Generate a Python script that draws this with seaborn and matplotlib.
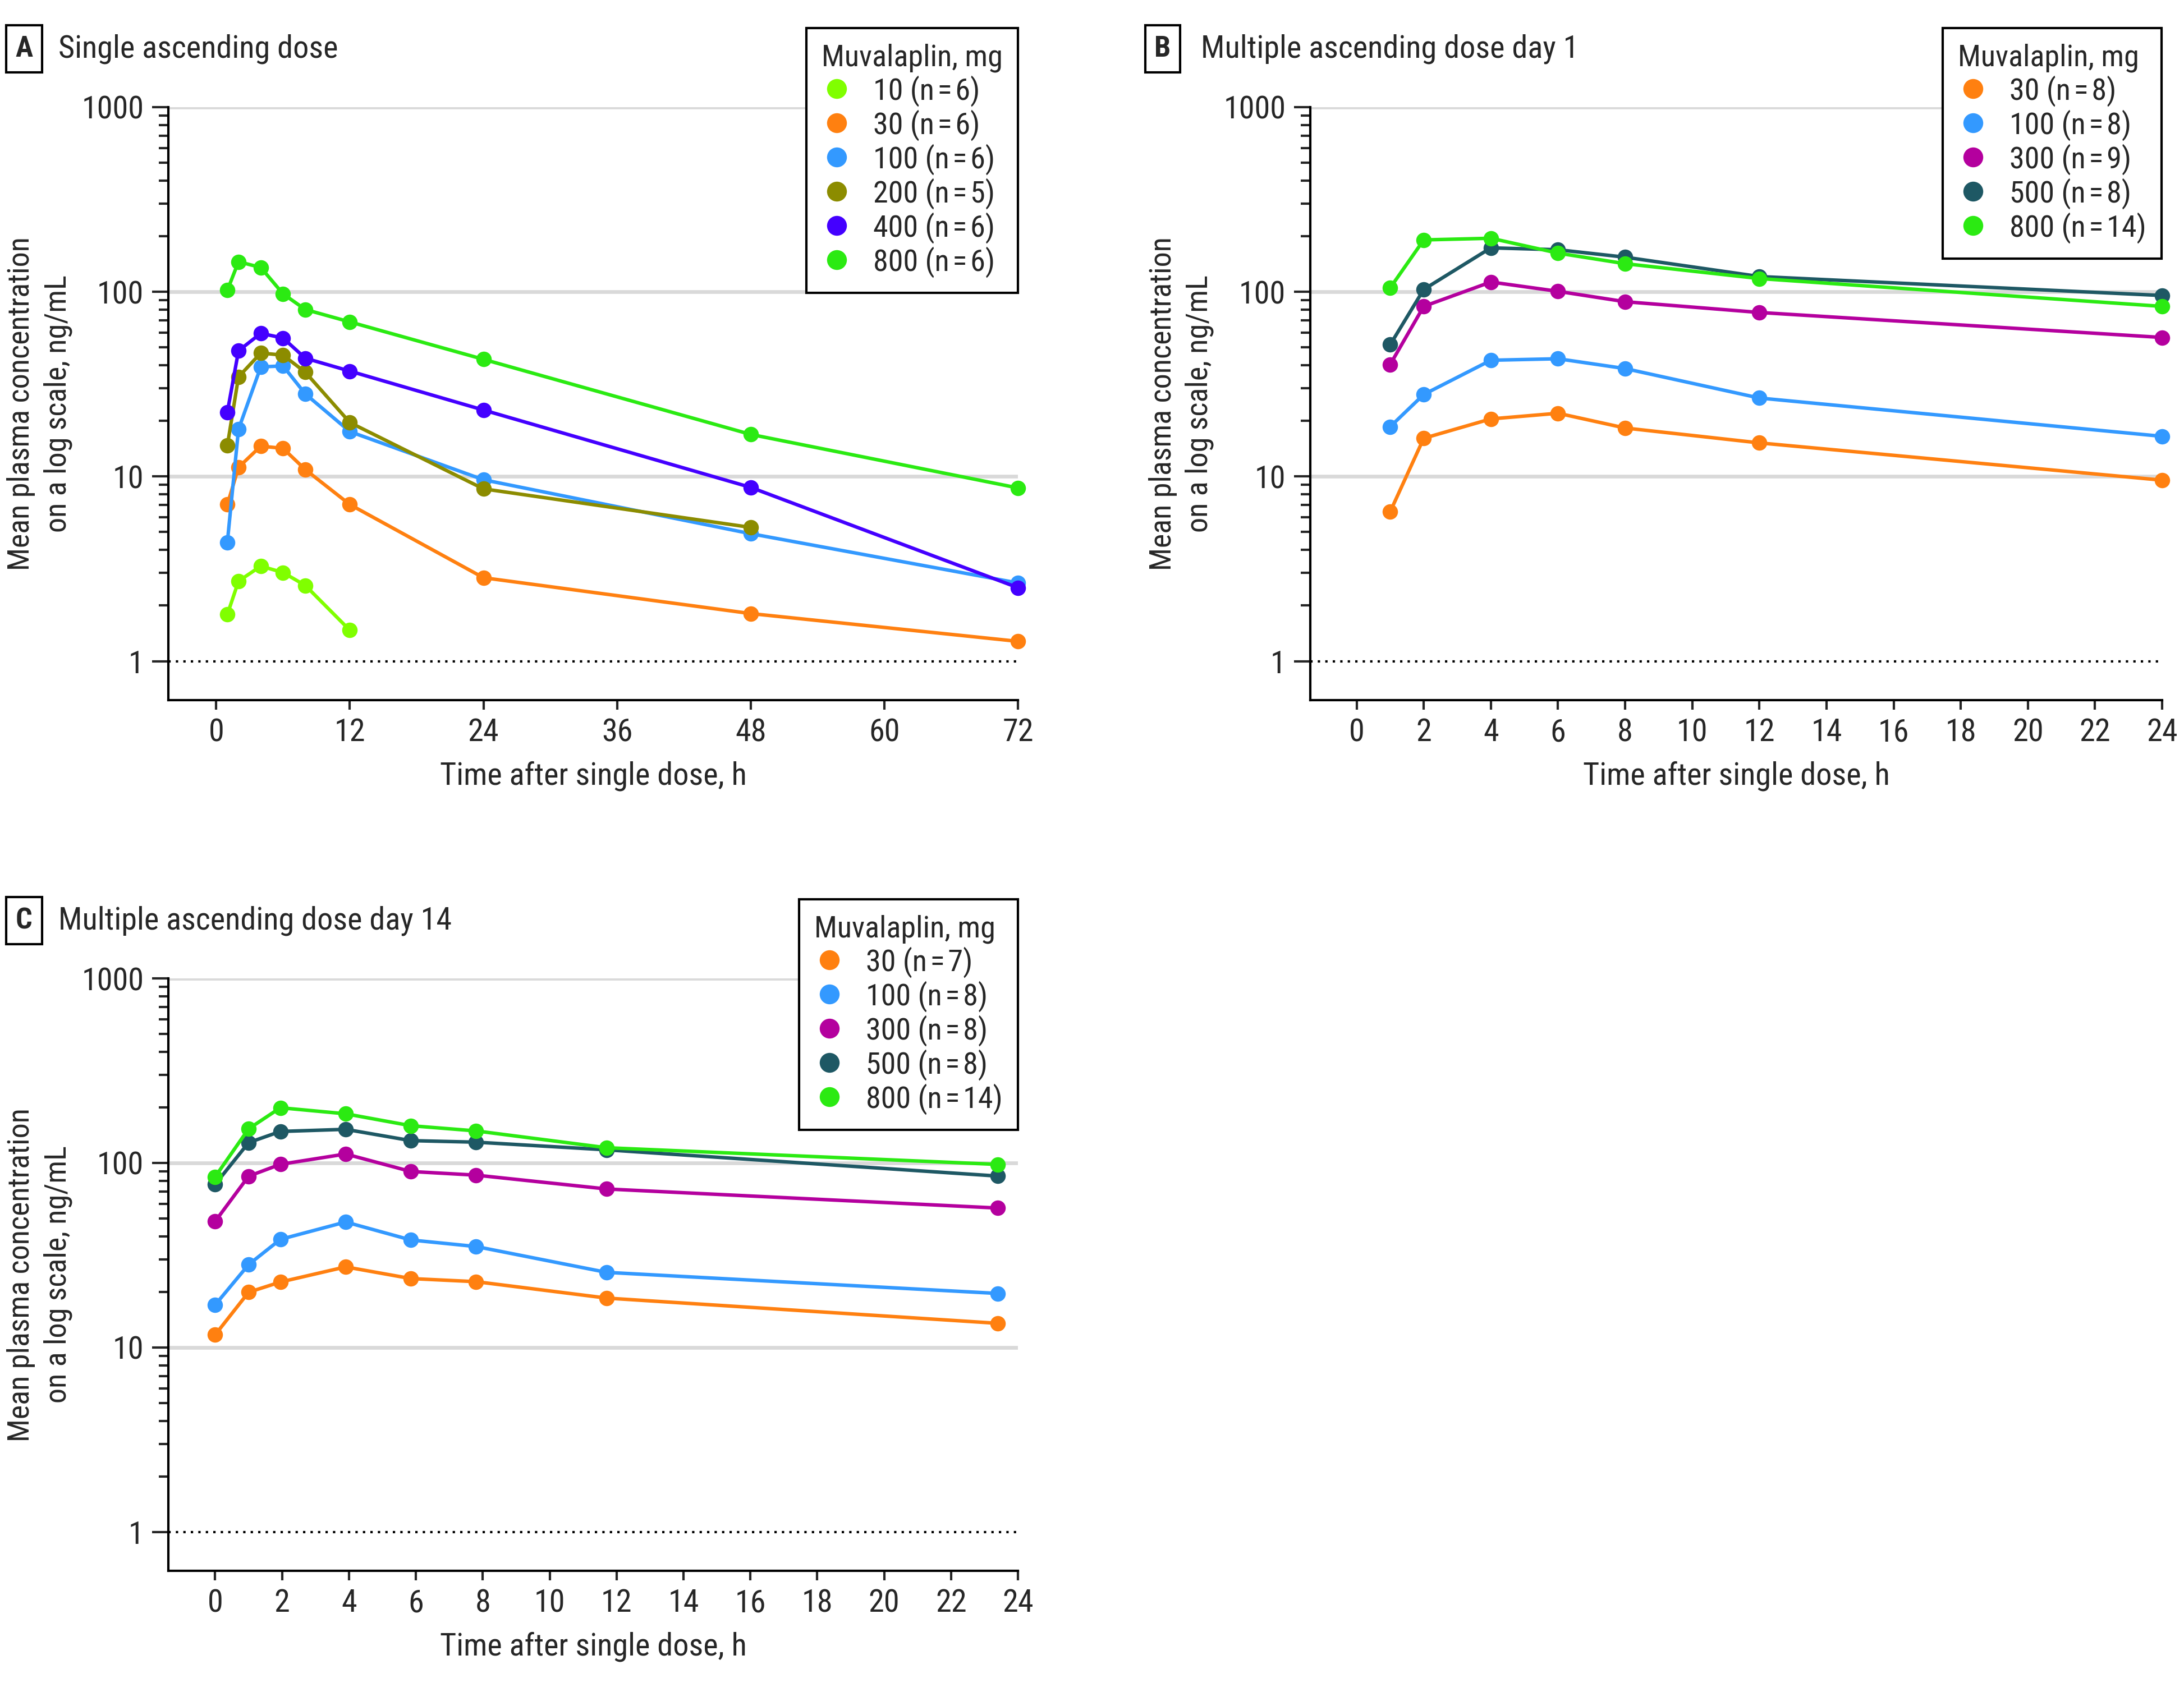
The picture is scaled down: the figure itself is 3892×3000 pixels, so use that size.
import pandas as pd
import matplotlib.pyplot as plt
import seaborn as sns
from matplotlib.lines import Line2D
from matplotlib.ticker import FixedLocator, NullFormatter

# ---- data ----
# A: single ascending dose
sad_time = [1, 2, 4, 6, 8, 12, 24, 48, 72]
sad_doses = ["10 (n\u200a=\u200a6)", "30 (n\u200a=\u200a6)", "100 (n\u200a=\u200a6)",
             "200 (n\u200a=\u200a5)", "400 (n\u200a=\u200a6)", "800 (n\u200a=\u200a6)"]
sad_10 = [1.79, 2.71, 3.27, 3.02, 2.57, 1.47]
sad_30 = [7.05, 11.2, 14.6, 14.2, 10.9, 7.05, 2.83, 1.81, 1.28]
sad_100 = [4.4, 18.0, 39.2, 39.7, 28.0, 17.5, 9.6, 4.9, 2.65]
sad_200 = [14.7, 34.6, 46.6, 45.4, 36.7, 19.6, 8.57, 5.3]
sad_400 = [22.3, 47.9, 59.6, 56.2, 43.7, 37.2, 22.9, 8.73, 2.5]
sad_800 = [101.9, 145.5, 135.5, 97.5, 80.2, 68.7, 43.1, 16.9, 8.67]
sad_colors = ["#80ff00", "#ff8010", "#3399ff", "#8c8c00", "#4400ff", "#2bea12"]

# B: multiple ascending dose day 1
mad1_time = [1, 2, 4, 6, 8, 12, 24]
mad1_doses = ["30 (n\u200a=\u200a8)", "100 (n\u200a=\u200a8)", "300 (n\u200a=\u200a9)",
              "500 (n\u200a=\u200a8)", "800 (n\u200a=\u200a14)"]
mad1_30 = [6.44, 16.1, 20.5, 22.0, 18.3, 15.2, 9.55]
mad1_100 = [18.6, 27.8, 42.6, 43.4, 38.4, 26.6, 16.5]
mad1_300 = [40.4, 83.4, 113, 100.6, 88.4, 77.3, 56.6]
mad1_500 = [51.7, 103, 173, 169, 154, 121, 95.5]
mad1_800 = [105, 191, 195, 162, 142, 118, 83.4]

# C: multiple ascending dose day 14
mad14_time = [0, 1, 1.95, 3.9, 5.85, 7.8, 11.7, 23.4]
mad14_doses = ["30 (n\u200a=\u200a7)", "100 (n\u200a=\u200a8)", "300 (n\u200a=\u200a8)",
               "500 (n\u200a=\u200a8)", "800 (n\u200a=\u200a14)"]
mad14_30 = [11.7, 19.9, 22.6, 27.3, 23.6, 22.7, 18.5, 13.5]
mad14_100 = [17.0, 28.1, 38.5, 47.8, 38.2, 35.2, 25.5, 19.6]
mad14_300 = [48.2, 84.7, 98.2, 111.7, 89.8, 85.8, 72.2, 56.9]
mad14_500 = [76.5, 128.8, 148, 152, 132, 129.5, 117.7, 84.8]
mad14_800 = [84.1, 153, 199, 184.5, 159, 149, 120.8, 98.1]
mad_colors = ["#ff8010", "#3399ff", "#b4009e", "#1e5864", "#2bea12"]


def long_table(times, doses, series):
    rows = []
    for dose, vals in zip(doses, series):
        for t, v in zip(times, vals):
            rows.append({"time": t, "conc": v, "dose": dose})
    return pd.DataFrame(rows)


sad_df = long_table(sad_time, sad_doses, [sad_10, sad_30, sad_100, sad_200, sad_400, sad_800])
mad1_df = long_table(mad1_time, mad1_doses, [mad1_30, mad1_100, mad1_300, mad1_500, mad1_800])
mad14_df = long_table(mad14_time, mad14_doses, [mad14_30, mad14_100, mad14_300, mad14_500, mad14_800])

sns.set_style("ticks")
# the journal uses a condensed face; take whatever condensed face is around
plt.rcParams["font.family"] = ["Liberation Sans Narrow", "Roboto Condensed",
                               "Open Sans Condensed", "DejaVu Sans"]
plt.rcParams["font.stretch"] = "condensed"
plt.rcParams["font.size"] = 12.5

W, H = 3892, 3000
fig = plt.figure(figsize=(W / 300, H / 300), dpi=300)


def draw_panel(ax, df, doses, colors, xlim, xticks, letter, title, letter_xy, title_x, legend_xy):
    ax.set_yscale("log")
    ax.set_ylim(0.615, 1000)
    ax.set_xlim(*xlim)
    for g in [10, 100, 1000]:
        ax.axhline(g, color="#d9d9d9", lw=1.6, zorder=0)
    ax.axhline(1, color="black", lw=1.0, ls=(0, (1, 2.2)), zorder=0)

    sns.lineplot(data=df, x="time", y="conc", hue="dose", hue_order=doses,
                 palette=dict(zip(doses, colors)), marker="o", markersize=6.6,
                 markeredgewidth=0, linewidth=1.5, estimator=None, errorbar=None,
                 legend=False, ax=ax, clip_on=False, zorder=3)

    ax.set_xticks(xticks)
    ax.set_xticklabels([str(t) for t in xticks])
    ax.set_yticks([1, 10, 100, 1000])
    ax.set_yticklabels(["1", "10", "100", "1000"])
    minors = [m * d for d in (1, 10, 100) for m in range(2, 10)]
    ax.yaxis.set_minor_locator(FixedLocator(minors))
    ax.yaxis.set_minor_formatter(NullFormatter())
    ax.tick_params(axis="y", which="major", length=7, width=1.0, labelsize=13.5)
    ax.tick_params(axis="y", which="minor", length=4, width=1.0)
    ax.tick_params(axis="x", which="major", length=4, width=1.0, labelsize=13.5)
    ax.xaxis.set_minor_locator(FixedLocator([]))
    for side in ["top", "right"]:
        ax.spines[side].set_visible(False)
    for side in ["left", "bottom"]:
        ax.spines[side].set_linewidth(1.0)
        ax.spines[side].set_color("black")

    ax.set_xlabel("Time after single dose, h", fontsize=13.5)
    ax.xaxis.set_label_coords(0.5, -0.103)
    ax.set_ylabel("Mean plasma concentration\non a log scale, ng/mL",
                  fontsize=13, linespacing=1.36)
    # anchor of a rotated y label is its right edge
    ax.yaxis.set_label_coords(-0.113, 0.5)

    fig.text(letter_xy[0] / W, 1 - letter_xy[1] / H, letter, fontsize=12.5, fontweight="bold",
             ha="center", va="center",
             bbox=dict(boxstyle="square,pad=0.32", fc="white", ec="black", lw=1.0))
    fig.text(title_x / W, 1 - letter_xy[1] / H, title, fontsize=13.5, ha="left", va="center")

    handles = [Line2D([], [], ls="none", marker="o", markersize=8.5, markeredgewidth=0,
                      color=c) for c in colors]
    leg = ax.legend(handles, doses, title="Muvalaplin, mg", loc="upper right",
                    bbox_to_anchor=(legend_xy[0] / W, 1 - legend_xy[1] / H),
                    bbox_transform=fig.transFigure, borderaxespad=0, frameon=True,
                    fancybox=False, framealpha=1, edgecolor="black", fontsize=13,
                    title_fontsize=13, labelspacing=0.1, handletextpad=0.7,
                    handlelength=1.0, borderpad=0.5, alignment="left")
    leg.get_frame().set_linewidth(1.0)


axA = fig.add_axes([300 / W, 1 - 1248 / H, 1514 / W, 1057 / H])
draw_panel(axA, sad_df, sad_doses, sad_colors, (-4.3, 72), [0, 12, 24, 36, 48, 60, 72],
           "A", "Single ascending dose", (43, 87), 104, (1814, 50))

axB = fig.add_axes([2335 / W, 1 - 1248 / H, 1518 / W, 1057 / H])
draw_panel(axB, mad1_df, mad1_doses, mad_colors, (-1.38, 24), list(range(0, 25, 2)),
           "B", "Multiple ascending dose day 1", (2072, 87), 2140, (3852, 50))

axC = fig.add_axes([300 / W, 1 - 2800 / H, 1514 / W, 1056 / H])
draw_panel(axC, mad14_df, mad14_doses, mad_colors, (-1.4, 24), list(range(0, 25, 2)),
           "C", "Multiple ascending dose day 14", (43, 1641), 104, (1814, 1603))

fig.savefig("out.png", dpi=300)
